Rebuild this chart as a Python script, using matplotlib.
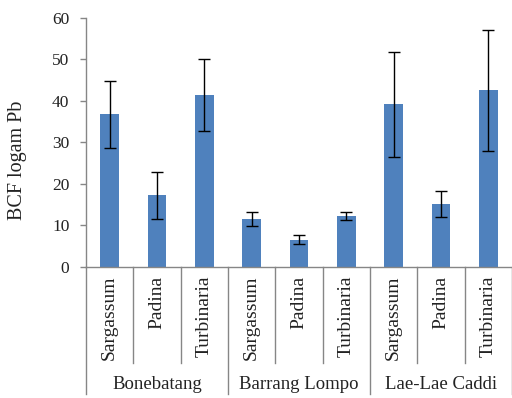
import matplotlib.pyplot as plt
from matplotlib import transforms

plt.rcParams['font.family'] = ['Liberation Serif', 'DejaVu Serif']

sites = ["Bonebatang", "Barrang Lompo", "Lae-Lae Caddi"]
species = ["Sargassum", "Padina", "Turbinaria"]
bcf = [36.7, 17.2, 41.3, 11.5, 6.6, 12.2, 39.1, 15.2, 42.5]
err = [8.0, 5.6, 8.7, 1.7, 1.0, 1.0, 12.7, 3.1, 14.5]

fig = plt.figure(figsize=(5.12, 3.98), dpi=100)
ax = fig.add_axes([86 / 512, 1 - 267 / 398, 426 / 512, 249.5 / 398])

x = list(range(len(bcf)))
ax.bar(x, bcf, width=0.39, color="#4F81BD", zorder=2)
ax.errorbar(x, bcf, yerr=err, fmt="none", ecolor="black", elinewidth=1,
            capsize=4, capthick=1, zorder=3)

ax.set_xlim(-0.5, 8.5)
ax.set_ylim(0, 60)
ax.set_yticks(range(0, 61, 10))
ax.set_xticks([])
ax.tick_params(axis="y", direction="out", length=4, width=1, color="#868686",
               labelsize=12.5, pad=8, labelcolor="#222222")
for s in ["top", "right"]:
    ax.spines[s].set_visible(False)
for s in ["left", "bottom"]:
    ax.spines[s].set_color("#868686")
    ax.spines[s].set_linewidth(1)

# two-level category axis: species under each site
trans = transforms.blended_transform_factory(ax.transData, ax.transAxes)
for i in range(len(bcf)):
    ax.text(x[i], -0.036, species[i % 3], rotation=90, ha="center", va="top",
            fontsize=14, transform=trans, color="#222222")
for k in range(1, 10):
    edge = k - 0.5
    bottom = -0.51 if k % 3 == 0 else -0.385
    ax.plot([edge, edge], [0, bottom], color="#868686", lw=1, transform=trans,
            clip_on=False)
ax.plot([-0.5, -0.5], [0, -0.51], color="#868686", lw=1, transform=trans,
        clip_on=False)
for g, site in enumerate(sites):
    ax.text(3 * g + 1, -0.469, site, ha="center", va="center", fontsize=13.5,
            transform=trans, color="#222222")

fig.text(18 / 512, 1 - 160 / 398, "BCF logam Pb", rotation=90, ha="center",
         va="center", fontsize=14.5, color="#222222")

fig.savefig("out.png", dpi=100)
